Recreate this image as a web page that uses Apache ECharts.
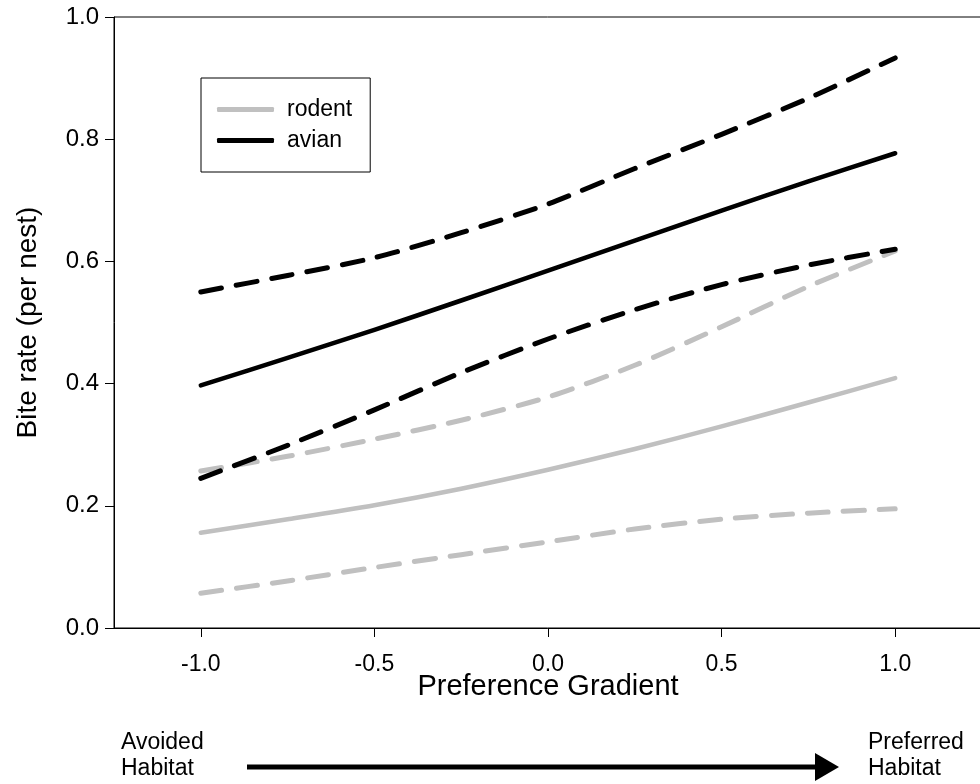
<!DOCTYPE html>
<html>
<head>
<meta charset="utf-8">
<style>
  html, body { margin: 0; padding: 0; background: #fff; }
  #chart { width: 980px; height: 784px; }
</style>
<script src="https://cdn.jsdelivr.net/npm/echarts@6/dist/echarts.min.js"></script>
</head>
<body>
<div id="chart"></div>
<script>
// Preference gradient positions at which the fitted curves are evaluated
const gradient = [-1, -0.75, -0.5, -0.25, 0, 0.25, 0.5, 0.75, 1];

// Rodent bite rate: fitted curve and confidence band
const rodentFit   = [0.156, 0.178, 0.201, 0.228, 0.259, 0.293, 0.330, 0.369, 0.409];
const rodentUpper = [0.257, 0.281, 0.309, 0.340, 0.378, 0.430, 0.493, 0.559, 0.617];
const rodentLower = [0.057, 0.077, 0.099, 0.120, 0.141, 0.162, 0.178, 0.188, 0.195];

// Avian bite rate: fitted curve and confidence band
const avianFit   = [0.397, 0.442, 0.488, 0.536, 0.585, 0.634, 0.683, 0.731, 0.777];
const avianUpper = [0.550, 0.577, 0.606, 0.647, 0.694, 0.752, 0.808, 0.867, 0.933];
const avianLower = [0.245, 0.299, 0.357, 0.418, 0.473, 0.521, 0.562, 0.594, 0.620];

// Axis ticks
const xTicks = [-1, -0.5, 0, 0.5, 1];

const FONT = '"Liberation Sans", Arial, sans-serif';
const GREY = '#c0c0c0';
const BLACK = '#000000';

function pairs(values) {
  return gradient.map((x, i) => [x, values[i]]);
}

function curve(name, values, color, dashed) {
  return {
    name: name,
    type: 'line',
    data: pairs(values),
    smooth: 0.25,
    symbol: 'none',
    silent: true,
    lineStyle: {
      color: color,
      width: dashed ? 5 : 4.5,
      type: dashed ? [21, 15] : 'solid',
      cap: 'round',
      join: 'round'
    },
    itemStyle: { color: color }
  };
}

const chart = echarts.init(document.getElementById('chart'), null, { renderer: 'canvas' });

chart.setOption({
  animation: false,
  backgroundColor: '#ffffff',
  textStyle: { fontFamily: FONT, color: BLACK },
  grid: {
    left: 114,
    top: 17,
    right: -2,
    bottom: 156,
    show: true,
    borderColor: BLACK,
    borderWidth: 1,
    outerBoundsMode: 'none'
  },
  legend: {
    data: [
      { name: 'rodent', icon: 'roundRect', itemStyle: { color: GREY } },
      { name: 'avian', icon: 'roundRect', itemStyle: { color: BLACK } }
    ],
    orient: 'vertical',
    left: 201,
    top: 78,
    selectedMode: false,
    itemWidth: 57,
    itemHeight: 5,
    itemGap: 8,
    padding: [20, 18, 20, 16],
    borderColor: BLACK,
    borderWidth: 1,
    backgroundColor: '#ffffff',
    textStyle: { fontFamily: FONT, fontSize: 23, color: BLACK, padding: [0, 0, 0, 8], lineHeight: 23 }
  },
  xAxis: {
    type: 'value',
    min: -1.25,
    max: 1.25,
    name: 'Preference Gradient',
    nameLocation: 'middle',
    nameGap: 44,
    nameMoveOverlap: false,
    nameTextStyle: { fontFamily: FONT, fontSize: 29, color: BLACK },
    axisLine: { show: true, onZero: false, lineStyle: { color: BLACK, width: 1 } },
    axisTick: { show: true, length: 9, customValues: xTicks, lineStyle: { color: BLACK, width: 1 } },
    axisLabel: {
      customValues: xTicks,
      margin: 25,
      fontFamily: FONT,
      fontSize: 23,
      color: BLACK,
      formatter: v => v.toFixed(1)
    },
    splitLine: { show: false }
  },
  yAxis: {
    type: 'value',
    min: 0,
    max: 1,
    interval: 0.2,
    name: 'Bite rate (per nest)',
    nameLocation: 'middle',
    nameGap: 72,
    nameMoveOverlap: false,
    nameTextStyle: { fontFamily: FONT, fontSize: 28, color: BLACK },
    axisLine: { show: true, onZero: false, lineStyle: { color: BLACK, width: 1 } },
    axisTick: { show: true, length: 9, lineStyle: { color: BLACK, width: 1 } },
    axisLabel: {
      margin: 15,
      fontFamily: FONT,
      fontSize: 24,
      color: BLACK,
      formatter: v => v.toFixed(1)
    },
    splitLine: { show: false }
  },
  series: [
    curve('rodent upper', rodentUpper, GREY, true),
    curve('rodent lower', rodentLower, GREY, true),
    curve('rodent', rodentFit, GREY, false),
    curve('avian upper', avianUpper, BLACK, true),
    curve('avian lower', avianLower, BLACK, true),
    curve('avian', avianFit, BLACK, false)
  ],
  graphic: [
    {
      type: 'text',
      left: 121,
      top: 730,
      style: { text: 'Avoided\nHabitat', font: '23px ' + FONT, fill: BLACK, lineHeight: 26 }
    },
    {
      type: 'text',
      left: 868,
      top: 730,
      style: { text: 'Preferred\nHabitat', font: '23px ' + FONT, fill: BLACK, lineHeight: 26 }
    },
    {
      type: 'line',
      shape: { x1: 247, y1: 767, x2: 818, y2: 767 },
      style: { stroke: BLACK, lineWidth: 5 }
    },
    {
      type: 'polygon',
      shape: { points: [[815, 753], [815, 781], [839, 767]] },
      style: { fill: BLACK }
    }
  ]
});
</script>
</body>
</html>
